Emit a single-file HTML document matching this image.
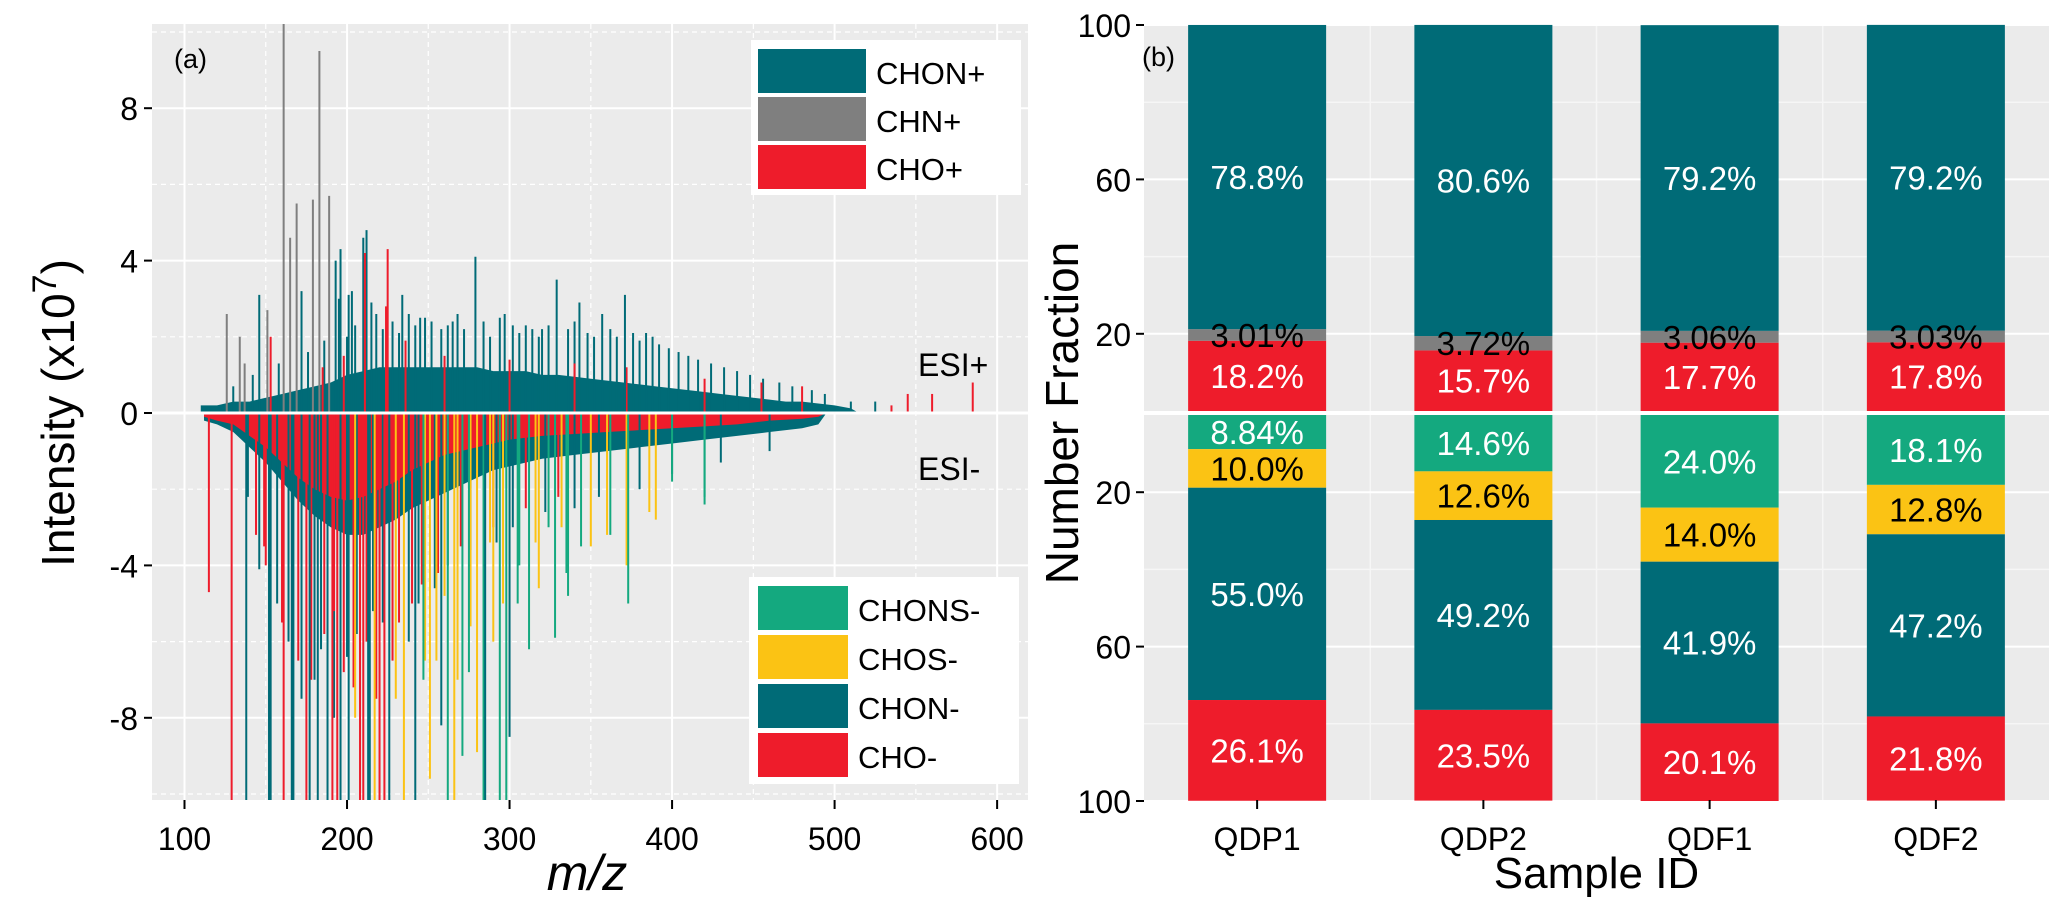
<!DOCTYPE html>
<html><head><meta charset="utf-8">
<style>
html,body{margin:0;padding:0;background:#fff;}
svg{display:block;font-family:"Liberation Sans",Arial,sans-serif;}
</style></head>
<body>
<svg id="fig" width="2067" height="924" viewBox="0 0 2067 924" xmlns="http://www.w3.org/2000/svg">
<defs>
<clipPath id="clipA"><rect x="152" y="24" width="876" height="776"/></clipPath>
</defs>
<g id="panelA"></g>
<g id="panelB"></g>
</svg>
<script>
// ---------- Panel (a) data (intensity x1e7) ----------
const posEnvMz = [110,120,130,140,150,160,170,180,190,200,210,220,230,240,250,260,270,280,290,300,310,320,330,340,350,360,370,380,390,400,410,420,430,440,450,460,470,480,490,500,510,515];
const posEnvVal = [0.2,0.2,0.3,0.3,0.4,0.5,0.6,0.7,0.8,1.0,1.1,1.2,1.2,1.2,1.2,1.2,1.2,1.2,1.1,1.1,1.1,1.0,1.0,0.95,0.9,0.85,0.8,0.75,0.7,0.65,0.6,0.55,0.5,0.45,0.4,0.35,0.3,0.3,0.25,0.2,0.12,0];
const negEnvMz = [112,120,130,140,150,160,170,180,190,200,210,220,230,240,250,260,270,280,290,300,320,340,360,380,400,420,440,460,480,490,495];
const negEnvTeal = [-0.2,-0.3,-0.5,-0.9,-1.3,-1.8,-2.3,-2.7,-3.0,-3.2,-3.2,-3.0,-2.8,-2.5,-2.3,-2.1,-1.9,-1.7,-1.5,-1.4,-1.2,-1.1,-1.0,-0.9,-0.8,-0.7,-0.6,-0.5,-0.4,-0.3,0];
const negEnvRed = [-0.1,-0.2,-0.3,-0.6,-0.9,-1.3,-1.7,-2.0,-2.2,-2.3,-2.2,-2.0,-1.8,-1.5,-1.3,-1.1,-1.0,-0.9,-0.8,-0.7,-0.6,-0.55,-0.5,-0.45,-0.4,-0.35,-0.3,-0.2,-0.15,-0.1,0];

const spikeMz = [161,183,169,165,179,189,126,134,137,151,172,146,196,212,210,193,195,201,203,215,234,279,329,371,297,343,357,245,265,310,320,388,153,211,225,224,480,545,560,585,525,535,510,
 129,138,152,153,161,166,167,175,177,182,188,191,194,196,201,208,210,213,214,217,220,223,226,235,242,251,262,266,271,280,284,285,294,298,300,312,328,373,115,139,146,149,205,230,247,255,258,268,275,290,305,318,335,350,362,390,420];
const spikeVal = [10.5,9.5,5.5,4.6,5.6,5.7,2.6,2.0,1.3,2.7,3.2,3.1,4.3,4.8,4.6,4.0,3.0,3.1,3.2,2.9,3.1,4.1,3.5,3.1,2.6,2.9,2.6,2.5,2.4,2.3,2.2,2.0,2.0,4.2,4.3,2.8,0.7,0.5,0.5,0.8,0.3,0.2,0.3,
 -10.5,-10.5,-10.5,-10.5,-10.5,-10.5,-10.5,-10.5,-10.5,-10.5,-10.5,-10.5,-10.5,-10.5,-10.5,-10.5,-10.5,-10.5,-10.5,-10.5,-10.5,-10.5,-10.5,-10.5,-10.5,-9.6,-10.5,-10.5,-9.0,-8.9,-10.5,-10.5,-10.5,-10.5,-8.5,-6.2,-5.9,-5.0,-4.7,-2.2,-4.1,-3.5,-8.0,-7.5,-7.0,-6.5,-8.2,-7.0,-6.8,-6.0,-5.0,-4.6,-4.2,-3.5,-3.2,-2.8,-2.4];
const spikeCls = ["g","g","g","g","g","g","g","g","g","g","t","t","t","t","t","t","t","t","t","t","t","t","t","t","t","t","t","t","t","t","t","t","r","r","r","r","r","r","r","r","t","r","t",
 "r","t","t","t","r","t","t","r","t","t","t","r","r","t","t","r","r","t","t","y","r","r","t","y","t","y","n","y","n","y","n","t","n","n","t","n","n","n","r","t","t","r","y","y","n","y","t","y","n","y","n","y","n","y","n","y","n"];

// extra forest peaks, grouped by class
const posTealMz = [200,205,218,222,228,232,238,242,248,252,258,262,268,272,284,288,294,302,306,314,318,324,336,340,348,352,362,366,376,380,384,392,398,404,410,416,424,432,440,448,456,466,474,486,494,176,186,158,142,130];
const posTealVal = [2.0,2.3,2.6,2.2,2.4,2.1,2.6,2.3,2.5,2.4,2.2,2.3,2.6,2.2,2.4,2.0,2.5,2.3,2.1,2.2,2.0,2.3,2.2,2.4,2.1,2.0,2.2,2.0,2.1,1.9,2.1,1.8,1.7,1.6,1.5,1.4,1.3,1.2,1.1,1.0,0.9,0.8,0.7,0.6,0.5,1.6,1.9,1.3,1.0,0.7];
const posRedMz = [236,260,300,340,372,420,455,198,185];
const posRedVal = [1.9,1.5,1.4,1.3,1.2,0.9,0.8,1.5,1.2];
const negRedMz = [170,178,186,198,204,218,228,232,240,246,256,270,290,310,330,160,150,144,212,192];
const negRedVal = [-6.5,-7.0,-5.8,-6.8,-7.2,-7.5,-6.5,-5.5,-5.0,-4.5,-4.2,-3.5,-3.0,-2.5,-2.2,-5.5,-4.0,-3.2,-6.0,-5.2];
const negTealMz = [172,184,192,206,222,238,244,254,262,276,292,302,322,340,355,380,400,430,460,157,164,180,200,216];
const negTealVal = [-7.5,-6.2,-8.0,-5.8,-5.5,-6.0,-5.0,-4.6,-4.0,-3.6,-3.4,-3.0,-2.6,-2.5,-2.2,-2.0,-1.6,-1.3,-1.0,-5.0,-6.0,-7.0,-6.4,-5.2];
const negYelMz = [260,288,296,316,332,360,372,386,248,276];
const negYelVal = [-4.8,-3.4,-5.0,-3.4,-3.0,-3.2,-4.0,-2.6,-6.5,-5.6];
const negGrnMz = [336,344,400,420,306,324];
const negGrnVal = [-4.8,-3.5,-1.8,-2.2,-4.0,-3.0];

// ---------- Panel (b) data (%) ----------
const samples = ["QDP1","QDP2","QDF1","QDF2"];
const posCHO = [18.2,15.7,17.7,17.8];
const posCHN = [3.01,3.72,3.06,3.03];
const posCHON = [78.8,80.6,79.2,79.2];
const negCHONS = [8.84,14.6,24.0,18.1];
const negCHOS = [10.0,12.6,14.0,12.8];
const negCHON = [55.0,49.2,41.9,47.2];
const negCHO = [26.1,23.5,20.1,21.8];
const posLabels = [["18.2%","3.01%","78.8%"],["15.7%","3.72%","80.6%"],["17.7%","3.06%","79.2%"],["17.8%","3.03%","79.2%"]];
const negLabels = [["8.84%","10.0%","55.0%","26.1%"],["14.6%","12.6%","49.2%","23.5%"],["24.0%","14.0%","41.9%","20.1%"],["18.1%","12.8%","47.2%","21.8%"]];
const tickA_x = [100,200,300,400,500,600];
const tickA_y = [8,4,0,-4,-8];
const tickB = [100,60,20];

const C = {t:"#006b77", g:"#7f7f7f", r:"#ee1c2b", n:"#14a97f", y:"#fbc314"};
const NS = "http://www.w3.org/2000/svg";
function mk(tag, attrs, parent, txt){
  const e = document.createElementNS(NS, tag);
  for (const k in attrs) e.setAttribute(k, attrs[k]);
  if (txt !== undefined) e.textContent = txt;
  parent.appendChild(e);
  return e;
}

// ---------- Panel A ----------
const A = document.getElementById('panelA');
const AX0=152, AX1=1028, AY0=24, AY1=800, AZERO=413, APU=38.1;
const xA = m => AX0 + (m-80)/(619-80)*(AX1-AX0);
const yA = v => AZERO - v*APU;
let bg = mk('rect',{x:AX0,y:AY0,width:AX1-AX0,height:AY1-AY0,fill:'#ebebeb'},A);
 
[50,150,250,350,450,550].forEach(m=>{ const l=mk('line',{x1:xA(m),x2:xA(m),y1:AY0,y2:AY1,stroke:'#fff','stroke-width':1.2,'stroke-dasharray':'5,4'},A);
   });
[10,6,2,-2,-6,-10].forEach(v=>{ const l=mk('line',{x1:AX0,x2:AX1,y1:yA(v),y2:yA(v),stroke:'#fff','stroke-width':1.2,'stroke-dasharray':'5,4'},A);
   });
tickA_x.forEach(m=>{ const l=mk('line',{x1:xA(m),x2:xA(m),y1:AY0,y2:AY1,stroke:'#fff','stroke-width':2},A);
   });
tickA_y.forEach(v=>{ const l=mk('line',{x1:AX0,x2:AX1,y1:yA(v),y2:yA(v),stroke:'#fff','stroke-width':2},A);
   });
const gA = mk('g',{'clip-path':'url(#clipA)'},A);
 
function area(mzs, vals, col, name){
  let d = 'M'+xA(mzs[0])+','+yA(0);
  mzs.forEach((m,i)=>{ d += ' L'+xA(m)+','+yA(vals[i]); });
  d += ' L'+xA(mzs[mzs.length-1])+','+yA(0)+' Z';
  const p = mk('path',{d:d,fill:col},gA);
   
}
function peaks(mzs, vals, col){
  mzs.forEach((m,i)=>{
    const l = mk('line',{x1:xA(m),x2:xA(m),y1:yA(0),y2:yA(vals[i]),stroke:col,'stroke-width':2},gA);
    
    
  });
}
area(posEnvMz,posEnvVal,C.t,'chon-plus-envelope');
area(negEnvMz,negEnvTeal,C.t,'chon-minus-envelope');
area(negEnvMz,negEnvRed,C.r,'cho-minus-envelope');
peaks(posTealMz,posTealVal,C.t);
peaks(posRedMz,posRedVal,C.r);
peaks(negTealMz,negTealVal,C.t);
peaks(negRedMz,negRedVal,C.r);
peaks(negYelMz,negYelVal,C.y);
peaks(negGrnMz,negGrnVal,C.n);
spikeMz.forEach((m,i)=>{
  const l = mk('line',{x1:xA(m),x2:xA(m),y1:yA(0),y2:yA(spikeVal[i]),stroke:C[spikeCls[i]],'stroke-width':2},gA);
  
  
});
let zl = mk('line',{x1:AX0,x2:AX1,y1:AZERO,y2:AZERO,stroke:'#fff','stroke-width':3},A);
 
tickA_y.forEach(v=>{
  const l=mk('line',{x1:AX0-8,x2:AX0,y1:yA(v),y2:yA(v),stroke:'#000','stroke-width':2},A);
   
  const t=mk('text',{x:AX0-14,y:yA(v)+12,'text-anchor':'end','font-size':32},A, String(v));
   
});
tickA_x.forEach(m=>{
  const l=mk('line',{x1:xA(m),x2:xA(m),y1:AY1,y2:AY1+9,stroke:'#000','stroke-width':2},A);
   
  const t=mk('text',{x:xA(m),y:AY1+50,'text-anchor':'middle','font-size':32},A, String(m));
   
});
</script>
<script>
(function(){
const A = document.getElementById('panelA');
let t;
t=mk('text',{x:587,y:890,'text-anchor':'middle','font-size':50,'font-style':'italic'},A,'m/z');
 
t=mk('text',{transform:'translate(74,413) rotate(-90)','text-anchor':'middle','font-size':46},A);
 
mk('tspan',{},t,'Intensity (x10');
mk('tspan',{dy:-18,'font-size':34},t,'7');
mk('tspan',{dy:18},t,')');
t=mk('text',{x:174,y:68,'font-size':27},A,'(a)');
 
t=mk('text',{x:918,y:376,'font-size':32},A,'ESI+');
 
t=mk('text',{x:918,y:480,'font-size':32},A,'ESI-');
 
// legends
const lg1 = mk('g',{},A);  
mk('rect',{x:751,y:40,width:270,height:155,fill:'#fff'},lg1);
[['CHON+',C.t],['CHN+',C.g],['CHO+',C.r]].forEach((e,i)=>{
  const g=mk('g',{},lg1);  
  mk('rect',{x:758,y:49+i*48,width:108,height:44,fill:e[1]},g);
  mk('text',{x:876,y:84+i*48,'font-size':31},g,e[0]);
});
const lg2 = mk('g',{},A);  
mk('rect',{x:749,y:577,width:270,height:207,fill:'#fff'},lg2);
[['CHONS-',C.n],['CHOS-',C.y],['CHON-',C.t],['CHO-',C.r]].forEach((e,i)=>{
  const g=mk('g',{},lg2);  
  mk('rect',{x:758,y:586+i*49,width:90,height:44,fill:e[1]},g);
  mk('text',{x:858,y:621+i*49,'font-size':31},g,e[0]);
});

// ---------- Panel B ----------
const B = document.getElementById('panelB');
const BX0=1144, BX1=2049, BY0=24, BY1=800, MID=413, PU=3.86;
const band = (BX1-BX0)/samples.length, barW = 138;
const xc = i => BX0 + band*(i+0.5);
const yU = v => MID - 2 - v*PU;
const yD = v => MID + 2 + v*PU;
let r=mk('rect',{x:BX0,y:BY0,width:BX1-BX0,height:BY1-BY0,fill:'#ebebeb'},B);
 
[80,40].forEach(v=>{[yU(v),yD(v)].forEach(y=>{const l=mk('line',{x1:BX0,x2:BX1,y1:y,y2:y,stroke:'#f6f6f6','stroke-width':1.5},B);
   });});
for(let i=1;i<samples.length;i++){const l=mk('line',{x1:BX0+band*i,x2:BX0+band*i,y1:BY0,y2:BY1,stroke:'#f6f6f6','stroke-width':1.5},B);
   }
tickB.forEach(v=>{[yU(v),yD(v)].forEach(y=>{const l=mk('line',{x1:BX0,x2:BX1,y1:y,y2:y,stroke:'#fff','stroke-width':2},B);
   });});
samples.forEach((s,i)=>{const l=mk('line',{x1:xc(i),x2:xc(i),y1:BY0,y2:BY1,stroke:'#fff','stroke-width':2},B);
   });
samples.forEach((s,i)=>{
  const x = xc(i)-barW/2;
  const up=[posCHO[i],posCHN[i],posCHON[i]], upC=[C.r,C.g,C.t], upT=['#fff','#000','#fff'], upN=['bar-cho-plus','bar-chn-plus','bar-chon-plus'];
  let acc=0;
  up.forEach((v,k)=>{
    const y1=yU(acc+v), y0=yU(acc);
    const rc=mk('rect',{x:x,y:y1,width:barW,height:y0-y1,fill:upC[k]},B);
     
    acc+=v;
  });
  acc=0;
  up.forEach((v,k)=>{
    const yc=(yU(acc)+yU(acc+v))/2;
    const tx=mk('text',{x:xc(i),y:yc+12,'text-anchor':'middle','font-size':33,fill:upT[k]},B,posLabels[i][k]);
     
    acc+=v;
  });
  const dn=[negCHONS[i],negCHOS[i],negCHON[i],negCHO[i]], dnC=[C.n,C.y,C.t,C.r], dnT=['#fff','#000','#fff','#fff'], dnN=['bar-chons-minus','bar-chos-minus','bar-chon-minus','bar-cho-minus'];
  acc=0;
  dn.forEach((v,k)=>{
    const y0=yD(acc), y1=yD(acc+v);
    const rc=mk('rect',{x:x,y:y0,width:barW,height:y1-y0,fill:dnC[k]},B);
     
    const tx=mk('text',{x:xc(i),y:(y0+y1)/2+12,'text-anchor':'middle','font-size':33,fill:dnT[k]},B,negLabels[i][k]);
     
    acc+=v;
  });
  const tk=mk('line',{x1:xc(i),x2:xc(i),y1:BY1,y2:BY1+9,stroke:'#000','stroke-width':2},B);
   
  const tl=mk('text',{x:xc(i),y:BY1+50,'text-anchor':'middle','font-size':32},B,s);
   
});
const ml=mk('line',{x1:BX0,x2:BX1,y1:MID,y2:MID,stroke:'#fff','stroke-width':4},B);
 
tickB.forEach(v=>{[yU(v),yD(v)].forEach(y=>{
  const l=mk('line',{x1:BX0-8,x2:BX0,y1:y,y2:y,stroke:'#000','stroke-width':2},B);
   
  const t=mk('text',{x:BX0-13,y:y+12,'text-anchor':'end','font-size':32},B,String(v));
   
});});
let tt=mk('text',{transform:'translate(1078,413) rotate(-90)','text-anchor':'middle','font-size':46},B,'Number Fraction');
 
tt=mk('text',{x:(BX0+BX1)/2,y:888,'text-anchor':'middle','font-size':44},B,'Sample ID');
 
tt=mk('text',{x:1142,y:66,'font-size':27},B,'(b)');
 
})();
</script>
</body></html>
